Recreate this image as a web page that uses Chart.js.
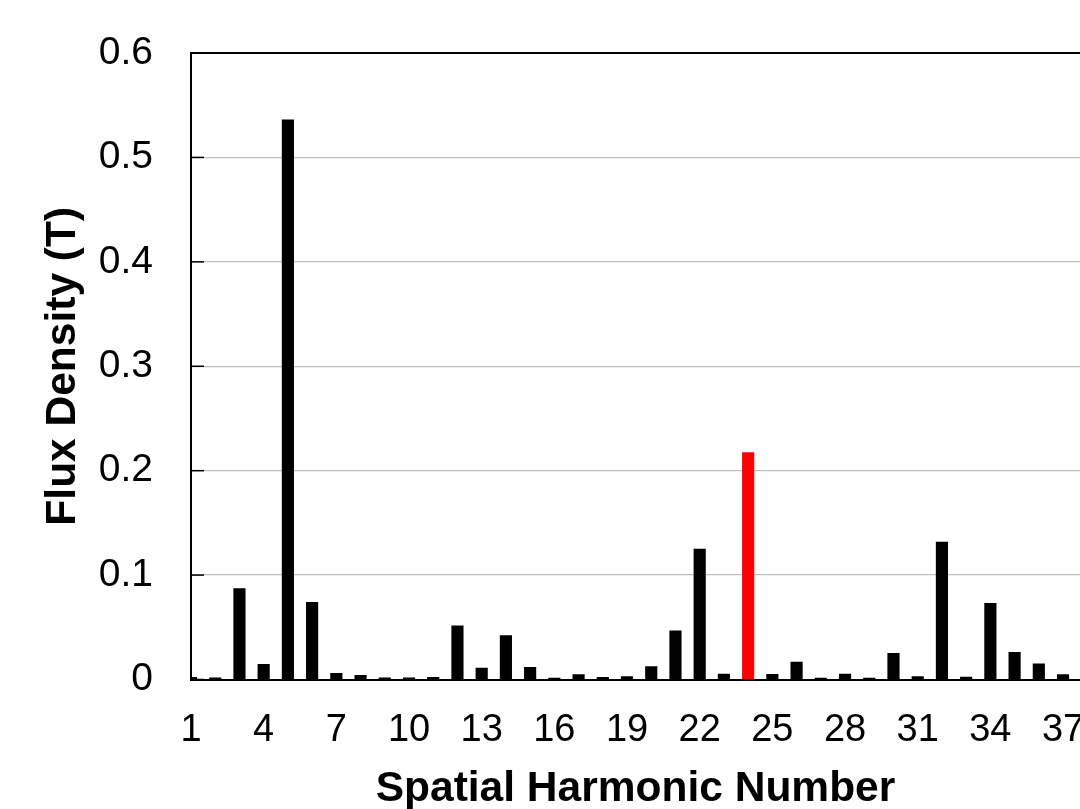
<!DOCTYPE html>
<html>
<head>
<meta charset="utf-8">
<script src="https://cdn.jsdelivr.net/npm/chart.js@4.4.0/dist/chart.umd.min.js"></script>
<style>
  html, body { margin: 0; padding: 0; background: #fff; }
</style>
</head>
<body>
<canvas id="miGrafico" width="1080" height="809"></canvas>
<script>
// Datos: numero de armonico espacial y densidad de flujo (T)
const armonicos = [1, 2, 3, 4, 5, 6, 7, 8, 9, 10, 11, 12, 13, 14, 15, 16, 17, 18, 19,
  20, 21, 22, 23, 24, 25, 26, 27, 28, 29, 30, 31, 32, 33, 34, 35, 36, 37];
const densidad = [0.002, 0.0015, 0.087, 0.0145, 0.536, 0.074, 0.006, 0.004, 0.0017, 0.0017,
  0.002, 0.0515, 0.011, 0.042, 0.0117, 0.0014, 0.0046, 0.002, 0.0027, 0.0123,
  0.0467, 0.125, 0.0053, 0.2174, 0.005, 0.0167, 0.0014, 0.0053, 0.0014, 0.025,
  0.0027, 0.1316, 0.0024, 0.0729, 0.026, 0.0151, 0.0046];
const armonicoDestacado = 24;
const ticksX = [1, 4, 7, 10, 13, 16, 19, 22, 25, 28, 31, 34, 37];
const ticksY = [0, 0.1, 0.2, 0.3, 0.4, 0.5, 0.6];

const fuente = 'Liberation Sans, Arial, sans-serif';

// marcas cortas del eje Y hacia dentro (como en Excel)
const marcasInternas = {
  id: 'marcasInternas',
  beforeDatasetsDraw(chart) {
    const escalaY = chart.scales.y;
    const ctx = chart.ctx;
    ctx.save();
    ctx.strokeStyle = '#000';
    ctx.lineWidth = 1.5;
    escalaY.ticks.forEach((t) => {
      const y = escalaY.getPixelForValue(t.value);
      ctx.beginPath();
      ctx.moveTo(escalaY.right, y);
      ctx.lineTo(escalaY.right + 13, y);
      ctx.stroke();
    });
    ctx.restore();
  }
};

const canvas = document.getElementById('miGrafico');

const data = {
  datasets: [{
    data: armonicos.map((n, i) => ({ x: n, y: densidad[i] })),
    backgroundColor: (c) => (c.raw && c.raw.x === armonicoDestacado) ? '#FF0000' : '#000000',
    barThickness: 11.5,
    borderWidth: 0,
    clip: 0
  }]
};

const config = {
  type: 'bar',
  data: data,
  plugins: [marcasInternas],
  options: {
    responsive: false,
    animation: false,
    layout: { padding: { top: 53, right: 0, left: 0, bottom: 0 } },
    plugins: {
      legend: { display: false },
      tooltip: { enabled: false }
    },
    scales: {
      x: {
        type: 'linear',
        offset: false,
        min: 1,
        max: 37.7,
        grid: { display: false, drawTicks: false, offset: false },
        border: { display: true, color: '#000', width: 2 },
        afterBuildTicks: (s) => { s.ticks = ticksX.map((v) => ({ value: v })); },
        ticks: {
          font: { family: fuente, size: 38 },
          color: '#000',
          padding: 28,
          autoSkip: false,
          maxRotation: 0,
          callback: (v) => String(v)
        },
        title: {
          display: true,
          text: 'Spatial Harmonic Number',
          color: '#000',
          font: { family: fuente, size: 42.5, weight: 'bold', lineHeight: 1 },
          padding: { top: 0, bottom: -2 }
        },
        afterFit: (s) => { s.height = 129.5; s.paddingLeft = 0; s.paddingRight = 0; }
      },
      y: {
        min: 0,
        max: 0.6,
        afterBuildTicks: (s) => { s.ticks = ticksY.map((v) => ({ value: v })); },
        grid: {
          drawTicks: false,
          color: (c) => (c.tick && c.tick.value === 0.6) ? '#000' : '#BFBFBF',
          lineWidth: (c) => (c.tick && c.tick.value === 0.6) ? 2 : 1.3
        },
        border: { display: true, color: '#000', width: 2 },
        ticks: {
          font: { family: fuente, size: 39 },
          color: '#000',
          padding: 38,
          callback: (v) => String(v)
        },
        title: {
          display: true,
          text: 'Flux Density (T)',
          color: '#000',
          font: { family: fuente, size: 42.5, weight: 'bold', lineHeight: 1 },
          padding: { top: 42, bottom: 0 }
        },
        afterFit: (s) => { s.width = 191; s.paddingTop = 0; s.paddingBottom = 0; }
      }
    }
  }
};

const grafico = new Chart(canvas, config);
</script>
</body>
</html>
